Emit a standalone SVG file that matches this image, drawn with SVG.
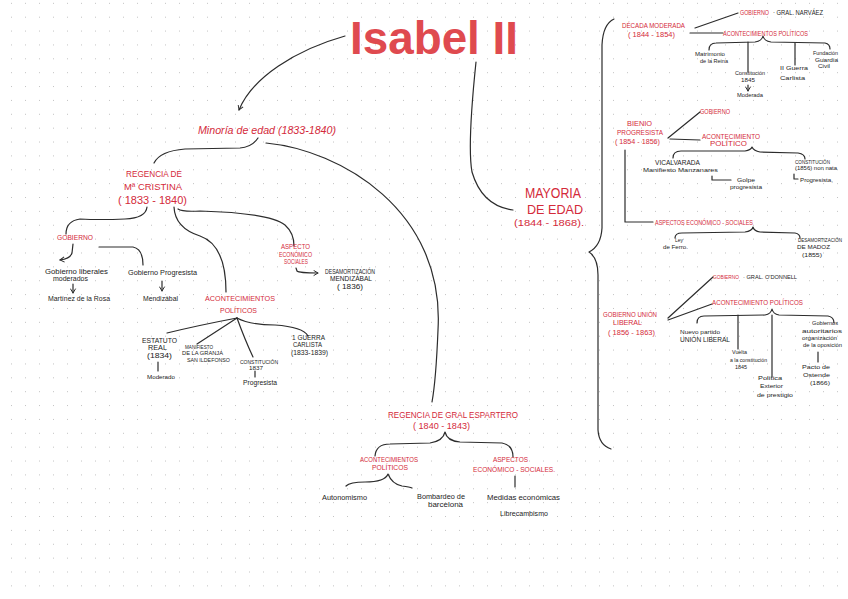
<svg xmlns="http://www.w3.org/2000/svg" width="848" height="599" viewBox="0 0 848 599">
<defs>
<pattern id="grid" x="11" y="16.7" width="14" height="13.87" patternUnits="userSpaceOnUse">
<rect x="-1" y="-1" width="2" height="2" fill="#c2c2c2"/>
</pattern>
<marker id="ah" viewBox="0 0 8 8" refX="6" refY="4" markerWidth="7" markerHeight="7" orient="auto" markerUnits="userSpaceOnUse">
<path d="M1,1 L6,4 L1,7" fill="none" stroke="#2a2a2a" stroke-width="1.1"/>
</marker>
<style>
.r{fill:#d42a3a;font-family:"Liberation Sans",Arial,sans-serif}
.k{fill:#1c1c1c;font-family:"Liberation Sans",Arial,sans-serif}
.c{fill:none;stroke:#2c2c2c;stroke-width:1.2;stroke-linecap:round;stroke-linejoin:round}
.t{fill:#df4a4f;font-family:"Liberation Sans",Arial,sans-serif;font-weight:bold}
</style>
</defs>
<rect width="848" height="599" fill="#ffffff"/>
<rect width="848" height="599" fill="url(#grid)"/>

<g id="connectors">
<path class="c" d="M345 36 C295 50 252 78 239 110" marker-end="url(#ah)"/>
<path class="c" d="M476 62 C471 110 468 150 472 172 Q 482 206 513 210"/>
<path class="c" d="M258 138 Q 252 147 240 148 L 185 149 Q 160 151 154 163"/>
<path class="c" d="M266 143 C340 150 445 210 438 330 Q 436 380 432 402"/>
<path class="c" d="M147 207 Q 146 218 125 219 Q 100 220 80 219 Q 66 221 66 234"/>
<path class="c" d="M174 207 Q 175 228 200 236 Q 226 245 226 292"/>
<path class="c" d="M178 209 Q 182 212 200 211 Q 270 213 285 225 Q 294 233 294 246"/>
<path class="c" d="M73 244 L 72 253 Q 70 259 60 260" marker-end="url(#ah)"/>
<path class="c" d="M99 247 L 133 247 Q 143 249 143 265"/>
<path class="c" d="M73 284 L 73 293" marker-end="url(#ah)"/>
<path class="c" d="M162 281 L 162 291" marker-end="url(#ah)"/>
<path class="c" d="M296 268 L 297 271 Q 299 273 318 273" marker-end="url(#ah)"/>
<path class="c" d="M237 318 Q 200 325 167 333"/>
<path class="c" d="M237 318 L 197 344"/>
<path class="c" d="M237 318 Q 245 340 253 357"/>
<path class="c" d="M237 318 Q 250 325 275 325 Q 303 327 308 336"/>
<path class="c" d="M158 362 L 158 371"/>
<path class="c" d="M255 371 L 255 377"/>
<path class="c" d="M375 456 Q 376 444 390 444 L 430 443 Q 443 441 445 432 Q 447 441 460 442 L 502 443 Q 513 445 513 457"/>
<path class="c" d="M346 486 Q 350 482 365 482 Q 385 482 388 474 Q 392 484 402 486 Q 410 487 412 488"/>
<path class="c" d="M515 476 L 515 487"/>
<path class="c" d="M614 19 Q 603 24 602 45 L 602 228 Q 601 246 589 252 Q 598 258 598 275 L 598 430 Q 599 445 611 449"/>
<path class="c" d="M695 28 L 738 13"/>
<path class="c" d="M690 33 L 723 33"/>
<path class="c" d="M709 50 Q 709 43 716 43 L 755 42 Q 762 41 763 36 Q 764 41 771 42 L 825 43 Q 830 44 830 49"/>
<path class="c" d="M748 42 L 748 72"/>
<path class="c" d="M795 43 L 795 65"/>
<path class="c" d="M748 85 L 748 91" marker-end="url(#ah)"/>
<path class="c" d="M668 138 L 700 112"/>
<path class="c" d="M670 139 L 700 140"/>
<path class="c" d="M673 158 Q 673 151 681 151 L 745 151 Q 751 150 752 147 Q 754 151 760 152 L 798 153 Q 805 154 805 159"/>
<path class="c" d="M712 176 L 712 180 L 731 180"/>
<path class="c" d="M794 174 L 794 179 L 798 179"/>
<path class="c" d="M625 150 L 625 222 L 653 222"/>
<path class="c" d="M675 238 Q 675 233 682 233 L 745 232 Q 752 231 753 227 Q 754 231 760 232 L 795 233 Q 800 234 800 238"/>
<path class="c" d="M668 318 L 713 277"/>
<path class="c" d="M668 320 L 712 304"/>
<path class="c" d="M697 323 Q 697 316 704 316 L 765 315 Q 771 314 772 309 Q 773 314 779 315 L 828 316 Q 834 317 834 323"/>
<path class="c" d="M738 315 L 738 349"/>
<path class="c" d="M772 315 L 772 377"/>
<path class="c" d="M818 352 L 818 362"/>
</g>

<g id="title"><text class="t" x="350" y="54" font-size="46" textLength="168" lengthAdjust="spacingAndGlyphs">Isabel II</text></g>

<g id="minoria"><text class="r" x="198" y="134" font-size="10" font-style="italic" textLength="138" lengthAdjust="spacingAndGlyphs">Minoría de edad (1833-1840)</text></g>

<g id="regencia-mc">
<text class="r" x="126" y="177" font-size="9" textLength="56" lengthAdjust="spacingAndGlyphs">REGENCIA DE</text>
<text class="r" x="124" y="190" font-size="9" textLength="58" lengthAdjust="spacingAndGlyphs">Mª CRISTINA</text>
<text class="r" x="118" y="204" font-size="10" textLength="69" lengthAdjust="spacingAndGlyphs">( 1833 - 1840)</text>
</g>

<g id="gobierno-mc"><text class="r" x="57" y="240" font-size="7" textLength="36" lengthAdjust="spacingAndGlyphs">GOBIERNO</text></g>
<g id="gob-moderados">
<text class="k" x="45" y="274" font-size="7" textLength="63" lengthAdjust="spacingAndGlyphs">Gobierno liberales</text>
<text class="k" x="53" y="281" font-size="7" textLength="35" lengthAdjust="spacingAndGlyphs">moderados</text>
</g>
<g id="martinez"><text class="k" x="48" y="301" font-size="7" textLength="62" lengthAdjust="spacingAndGlyphs">Martínez de la Rosa</text></g>
<g id="gob-progresista"><text class="k" x="128" y="275" font-size="7" textLength="69" lengthAdjust="spacingAndGlyphs">Gobierno Progresista</text></g>
<g id="mendizabal"><text class="k" x="143" y="301" font-size="7" textLength="35" lengthAdjust="spacingAndGlyphs">Mendizábal</text></g>

<g id="aspecto-mc">
<text class="r" x="281" y="249" font-size="6.5" textLength="29" lengthAdjust="spacingAndGlyphs">ASPECTO</text>
<text class="r" x="279" y="257" font-size="6.5" textLength="33" lengthAdjust="spacingAndGlyphs">ECONÓMICO</text>
<text class="r" x="284" y="264" font-size="6.5" textLength="24" lengthAdjust="spacingAndGlyphs">SOCIALES</text>
</g>
<g id="desamort-mendizabal">
<text class="k" x="325" y="274" font-size="6.5" textLength="50" lengthAdjust="spacingAndGlyphs">DESAMORTIZACIÓN</text>
<text class="k" x="330" y="281" font-size="6.5" textLength="42" lengthAdjust="spacingAndGlyphs">MENDIZÁBAL</text>
<text class="k" x="337" y="289" font-size="6.5" textLength="26" lengthAdjust="spacingAndGlyphs">( 1836)</text>
</g>

<g id="acont-mc">
<text class="r" x="205" y="301" font-size="8" textLength="70" lengthAdjust="spacingAndGlyphs">ACONTECIMIENTOS</text>
<text class="r" x="220" y="313" font-size="8" textLength="37" lengthAdjust="spacingAndGlyphs">POLÍTICOS</text>
</g>
<g id="estatuto">
<text class="k" x="142" y="343" font-size="7" textLength="35" lengthAdjust="spacingAndGlyphs">ESTATUTO</text>
<text class="k" x="148" y="350" font-size="7" textLength="19" lengthAdjust="spacingAndGlyphs">REAL</text>
<text class="k" x="147" y="358" font-size="7" textLength="25" lengthAdjust="spacingAndGlyphs">(1834)</text>
</g>
<g id="moderado"><text class="k" x="147" y="379" font-size="6" textLength="28" lengthAdjust="spacingAndGlyphs">Moderado</text></g>
<g id="manifiesto">
<text class="k" x="185" y="349" font-size="6" textLength="28" lengthAdjust="spacingAndGlyphs">MANIFIESTO</text>
<text class="k" x="182" y="355" font-size="6" textLength="41" lengthAdjust="spacingAndGlyphs">DE LA GRANJA</text>
<text class="k" x="187" y="362" font-size="6" textLength="43" lengthAdjust="spacingAndGlyphs">SAN ILDEFONSO</text>
</g>
<g id="constitucion-1837">
<text class="k" x="240" y="364" font-size="6" textLength="38" lengthAdjust="spacingAndGlyphs">CONSTITUCIÓN</text>
<text class="k" x="249" y="369.5" font-size="5" textLength="14" lengthAdjust="spacingAndGlyphs">1837</text>
</g>
<g id="progresista-1837"><text class="k" x="243" y="385" font-size="6.5" textLength="34" lengthAdjust="spacingAndGlyphs">Progresista</text></g>
<g id="guerra-carlista">
<text class="k" x="292" y="340" font-size="6.5" textLength="33" lengthAdjust="spacingAndGlyphs">1 GUERRA</text>
<text class="k" x="293" y="347" font-size="6.5" textLength="29" lengthAdjust="spacingAndGlyphs">CARLISTA</text>
<text class="k" x="291" y="355" font-size="6.5" textLength="37" lengthAdjust="spacingAndGlyphs">(1833-1839)</text>
</g>

<g id="regencia-espartero">
<text class="r" x="388" y="418" font-size="9" textLength="130" lengthAdjust="spacingAndGlyphs">REGENCIA DE GRAL ESPARTERO</text>
<text class="r" x="413" y="429" font-size="9" textLength="57" lengthAdjust="spacingAndGlyphs">( 1840 - 1843)</text>
</g>
<g id="acont-esp">
<text class="r" x="360" y="462" font-size="7" textLength="58" lengthAdjust="spacingAndGlyphs">ACONTECIMIENTOS</text>
<text class="r" x="372" y="470" font-size="7" textLength="36" lengthAdjust="spacingAndGlyphs">POLÍTICOS</text>
</g>
<g id="aspectos-esp">
<text class="r" x="493" y="462" font-size="7" textLength="35" lengthAdjust="spacingAndGlyphs">ASPECTOS</text>
<text class="r" x="473" y="472" font-size="7" textLength="82" lengthAdjust="spacingAndGlyphs">ECONÓMICO - SOCIALES.</text>
</g>
<g id="autonomismo"><text class="k" x="322" y="500" font-size="7" textLength="45" lengthAdjust="spacingAndGlyphs">Autonomismo</text></g>
<g id="bombardeo">
<text class="k" x="417" y="499" font-size="7" textLength="48" lengthAdjust="spacingAndGlyphs">Bombardeo de</text>
<text class="k" x="428" y="507" font-size="7" textLength="35" lengthAdjust="spacingAndGlyphs">barcelona</text>
</g>
<g id="medidas"><text class="k" x="487" y="500" font-size="7" textLength="73" lengthAdjust="spacingAndGlyphs">Medidas económicas</text></g>
<g id="librecambismo"><text class="k" x="500" y="516" font-size="7" textLength="48" lengthAdjust="spacingAndGlyphs">Librecambismo</text></g>

<g id="mayoria">
<text class="r" x="525" y="198" font-size="14" textLength="56" lengthAdjust="spacingAndGlyphs">MAYORIA</text>
<text class="r" x="527" y="214" font-size="12" textLength="56" lengthAdjust="spacingAndGlyphs">DE EDAD</text>
<text class="r" x="514" y="226" font-size="9" textLength="70" lengthAdjust="spacingAndGlyphs">(1844 - 1868).</text>
</g>

<g id="decada-moderada">
<text class="r" x="622" y="28" font-size="8" textLength="63" lengthAdjust="spacingAndGlyphs">DÉCADA MODERADA</text>
<text class="r" x="628" y="37" font-size="7" textLength="47" lengthAdjust="spacingAndGlyphs">( 1844 - 1854)</text>
</g>
<g id="gob-narvaez">
<text class="r" x="740" y="14.5" font-size="6.5" textLength="29" lengthAdjust="spacingAndGlyphs">GOBIERNO</text>
<text class="k" x="773" y="14.5" font-size="6.5" textLength="50" lengthAdjust="spacingAndGlyphs">· GRAL. NARVÁEZ</text>
</g>
<g id="acont-dm"><text class="r" x="723" y="35.5" font-size="6.5" textLength="85" lengthAdjust="spacingAndGlyphs">ACONTECIMIENTOS POLÍTICOS</text></g>
<g id="matrimonio">
<text class="k" x="695" y="56" font-size="6" textLength="30" lengthAdjust="spacingAndGlyphs">Matrimonio</text>
<text class="k" x="700" y="62.5" font-size="6" textLength="28" lengthAdjust="spacingAndGlyphs">de la Reina</text>
</g>
<g id="constitucion-1845">
<text class="k" x="735" y="75" font-size="6" textLength="30" lengthAdjust="spacingAndGlyphs">Constitución</text>
<text class="k" x="741" y="82" font-size="6" textLength="14" lengthAdjust="spacingAndGlyphs">1845</text>
<text class="k" x="737" y="97" font-size="6" textLength="26" lengthAdjust="spacingAndGlyphs">Moderada</text>
</g>
<g id="guerra-2">
<text class="k" x="780" y="70" font-size="6" textLength="28" lengthAdjust="spacingAndGlyphs">II Guerra</text>
<text class="k" x="780" y="80" font-size="6" textLength="25" lengthAdjust="spacingAndGlyphs">Carlista</text>
</g>
<g id="guardia-civil">
<text class="k" x="813" y="55" font-size="6" textLength="25" lengthAdjust="spacingAndGlyphs">Fundación</text>
<text class="k" x="815" y="61.5" font-size="6" textLength="23" lengthAdjust="spacingAndGlyphs">Guardia</text>
<text class="k" x="818" y="68" font-size="6" textLength="12" lengthAdjust="spacingAndGlyphs">Civil</text>
</g>

<g id="bienio">
<text class="r" x="627" y="125.5" font-size="7.5" textLength="25" lengthAdjust="spacingAndGlyphs">BIENIO</text>
<text class="r" x="617" y="135" font-size="7.5" textLength="46" lengthAdjust="spacingAndGlyphs">PROGRESISTA</text>
<text class="r" x="615" y="144" font-size="7" textLength="45" lengthAdjust="spacingAndGlyphs">( 1854 - 1856)</text>
</g>
<g id="gob-bienio"><text class="r" x="700" y="114" font-size="6.5" textLength="30" lengthAdjust="spacingAndGlyphs">GOBIERNO</text></g>
<g id="acont-bienio">
<text class="r" x="702" y="139" font-size="7" textLength="58" lengthAdjust="spacingAndGlyphs">ACONTECIMIENTO</text>
<text class="r" x="710" y="146" font-size="7" textLength="37" lengthAdjust="spacingAndGlyphs">POLÍTICO</text>
</g>
<g id="vicalvarada">
<text class="k" x="655" y="165" font-size="6.5" textLength="45" lengthAdjust="spacingAndGlyphs">VICALVARADA</text>
<text class="k" x="643" y="172" font-size="6" textLength="75" lengthAdjust="spacingAndGlyphs">Manifiesto Manzanares</text>
</g>
<g id="golpe">
<text class="k" x="737" y="182" font-size="6" textLength="18" lengthAdjust="spacingAndGlyphs">Golpe</text>
<text class="k" x="730" y="189" font-size="6" textLength="32" lengthAdjust="spacingAndGlyphs">progresista</text>
</g>
<g id="constitucion-1856">
<text class="k" x="795" y="164" font-size="6" textLength="35" lengthAdjust="spacingAndGlyphs">CONSTITUCIÓN</text>
<text class="k" x="795" y="170" font-size="6" textLength="42" lengthAdjust="spacingAndGlyphs">(1856) non nata</text>
<text class="k" x="800" y="182" font-size="6" textLength="33" lengthAdjust="spacingAndGlyphs">Progresista,</text>
</g>
<g id="aspectos-bienio"><text class="r" x="655" y="224.5" font-size="6.5" textLength="98" lengthAdjust="spacingAndGlyphs">ASPECTOS ECONÓMICO - SOCIALES</text></g>
<g id="ley-ferro">
<text class="k" x="675" y="242" font-size="6" textLength="8" lengthAdjust="spacingAndGlyphs">Ley</text>
<text class="k" x="663" y="249" font-size="6" textLength="25" lengthAdjust="spacingAndGlyphs">de Ferro.</text>
</g>
<g id="desamort-madoz">
<text class="k" x="798" y="242" font-size="4.9" textLength="44" lengthAdjust="spacingAndGlyphs">DESAMORTIZACIÓN</text>
<text class="k" x="797" y="249" font-size="6" textLength="33" lengthAdjust="spacingAndGlyphs">DE MADOZ</text>
<text class="k" x="802" y="257" font-size="6" textLength="20" lengthAdjust="spacingAndGlyphs">(1855)</text>
</g>

<g id="union-liberal">
<text class="r" x="603" y="317" font-size="7.5" textLength="54" lengthAdjust="spacingAndGlyphs">GOBIERNO UNIÓN</text>
<text class="r" x="613" y="325" font-size="7.5" textLength="29" lengthAdjust="spacingAndGlyphs">LIBERAL</text>
<text class="r" x="608" y="334.5" font-size="7" textLength="47" lengthAdjust="spacingAndGlyphs">( 1856 - 1863)</text>
</g>
<g id="gob-odonnell">
<text class="r" x="713" y="278.5" font-size="6" textLength="26" lengthAdjust="spacingAndGlyphs">GOBIERNO</text>
<text class="k" x="743" y="278.5" font-size="6" textLength="54" lengthAdjust="spacingAndGlyphs">· GRAL. O'DONNELL</text>
</g>
<g id="acont-ul"><text class="r" x="712" y="305" font-size="6.5" textLength="91" lengthAdjust="spacingAndGlyphs">ACONTECIMIENTO POLÍTICOS</text></g>
<g id="nuevo-partido">
<text class="k" x="680" y="334" font-size="6" textLength="40" lengthAdjust="spacingAndGlyphs">Nuevo partido</text>
<text class="k" x="680" y="342" font-size="6.5" textLength="50" lengthAdjust="spacingAndGlyphs">UNIÓN LIBERAL</text>
</g>
<g id="vuelta">
<text class="k" x="732" y="354" font-size="6" textLength="15" lengthAdjust="spacingAndGlyphs">Vuelta</text>
<text class="k" x="730" y="362" font-size="6" textLength="37" lengthAdjust="spacingAndGlyphs">a la constitución</text>
<text class="k" x="735" y="369" font-size="5.5" textLength="12" lengthAdjust="spacingAndGlyphs">1845</text>
</g>
<g id="politica-exterior">
<text class="k" x="758" y="380" font-size="6" textLength="24" lengthAdjust="spacingAndGlyphs">Política</text>
<text class="k" x="760" y="388" font-size="6" textLength="23" lengthAdjust="spacingAndGlyphs">Exterior</text>
<text class="k" x="757" y="397" font-size="6" textLength="36" lengthAdjust="spacingAndGlyphs">de prestigio</text>
</g>
<g id="gobiernos-autoritarios">
<text class="k" x="812" y="325" font-size="6" textLength="26" lengthAdjust="spacingAndGlyphs">Gobiernos</text>
<text class="k" x="802" y="333" font-size="6" textLength="40" lengthAdjust="spacingAndGlyphs">autoritarios</text>
<text class="k" x="802" y="340" font-size="6" textLength="35" lengthAdjust="spacingAndGlyphs">organización</text>
<text class="k" x="803" y="347" font-size="6" textLength="39" lengthAdjust="spacingAndGlyphs">de la oposición</text>
</g>
<g id="pacto-ostende">
<text class="k" x="802" y="369" font-size="6" textLength="28" lengthAdjust="spacingAndGlyphs">Pacto de</text>
<text class="k" x="803" y="377" font-size="6" textLength="27" lengthAdjust="spacingAndGlyphs">Ostende</text>
<text class="k" x="810" y="385" font-size="6" textLength="20" lengthAdjust="spacingAndGlyphs">(1866)</text>
</g>
</svg>
